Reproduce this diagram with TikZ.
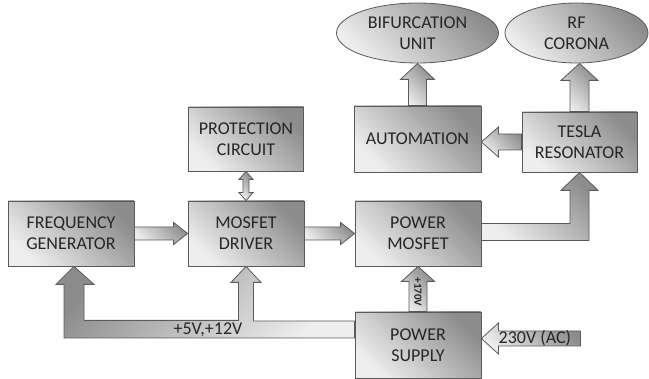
\documentclass[tikz,border=0pt]{standalone}
\usepackage{fontspec}
\setmainfont{Carlito}
\usetikzlibrary{shapes.geometric}
\usetikzlibrary{calc}
\definecolor{boxdark}{HTML}{8C8C8C}
\definecolor{boxlight}{HTML}{EEEEEE}
\definecolor{edge}{HTML}{5A5A5A}
\definecolor{txt}{HTML}{262626}
\tikzset{%
  bw/.store in = \fbw, hw/.store in = \fhw, hl/.store in = \fhl,
  bw=6pt, hw=11pt, hl=14pt,
  lbl/.style = {text=txt,inner sep=0pt,
        font=\fontsize{18pt}{21pt}\selectfont},
  grad/.style = {draw=edge,line width=0.8pt,top color=boxdark,
        bottom color=boxlight,shading angle=-45},
  gradl/.style = {draw=edge,line width=0.8pt,top color=boxdark,
        bottom color=boxlight,shading angle=45},
  blk/.style = {rectangle,grad,lbl,align=center},
  oval/.style = {ellipse,grad,lbl,align=center},
  fat/.style = {grad,to path={
        ($(\tikztostart)!\fbw!90:(\tikztotarget)$)
     -- ($(\tikztotarget)!\fhl!(\tikztostart)!\fbw!-90:(\tikztostart)$)
     -- ($(\tikztotarget)!\fhl!(\tikztostart)!\fhw!-90:(\tikztostart)$)
     -- (\tikztotarget)
     -- ($(\tikztotarget)!\fhl!(\tikztostart)!\fhw!90:(\tikztostart)$)
     -- ($(\tikztotarget)!\fhl!(\tikztostart)!\fbw!90:(\tikztostart)$)
     -- ($(\tikztostart)!\fbw!-90:(\tikztotarget)$) -- cycle}},
  fatboth/.style = {grad,to path={
        ($(\tikztostart)!\fhl!(\tikztotarget)!\fbw!90:(\tikztotarget)$)
     -- ($(\tikztotarget)!\fhl!(\tikztostart)!\fbw!-90:(\tikztostart)$)
     -- ($(\tikztotarget)!\fhl!(\tikztostart)!\fhw!-90:(\tikztostart)$)
     -- (\tikztotarget)
     -- ($(\tikztotarget)!\fhl!(\tikztostart)!\fhw!90:(\tikztostart)$)
     -- ($(\tikztotarget)!\fhl!(\tikztostart)!\fbw!90:(\tikztostart)$)
     -- ($(\tikztostart)!\fhl!(\tikztotarget)!\fbw!-90:(\tikztotarget)$)
     -- ($(\tikztostart)!\fhl!(\tikztotarget)!\fhw!-90:(\tikztotarget)$)
     -- (\tikztostart)
     -- ($(\tikztostart)!\fhl!(\tikztotarget)!\fhw!90:(\tikztotarget)$)
     -- cycle}}
}

\begin{document}
\begin{tikzpicture}[x=1pt,y=-1pt]
  \useasboundingbox (0,0) rectangle (649,379);
  % blocks
  \node[blk,minimum width=126pt,minimum height=65pt] (fg) at (71,233.5) {FREQUENCY\\GENERATOR};
  \node[blk,minimum width=116pt,minimum height=65pt] (md) at (246,233.5) {MOSFET\\DRIVER};
  \node[blk,minimum width=115pt,minimum height=64pt] (pc) at (246,139) {PROTECTION\\CIRCUIT};
  \node[blk,minimum width=126pt,minimum height=65pt] (pm) at (418,233.5) {POWER\\MOSFET};
  \node[blk,minimum width=126pt,minimum height=66pt] (ps) at (418,345) {POWER\\SUPPLY};
  \node[blk,minimum width=127pt,minimum height=66pt] (au) at (417.5,139) {AUTOMATION};
  \node[blk,minimum width=115pt,minimum height=60pt] (tr) at (579.5,142) {TESLA\\RESONATOR};
  \node[oval,minimum width=162pt,minimum height=60pt] (bu) at (417.5,33) {BIFURCATION\\UNIT};
  \node[oval,minimum width=143pt,minimum height=60pt] (rf) at (576.5,33) {RF\\CORONA};

  \coordinate (au-in) at (au.east |- tr.west);
  \coordinate (rf-in) at (tr.north |- rf.south);
  \coordinate (ps-in) at ($(ps.east)+(0,-6.5)$);
  \coordinate (ac) at ($(ps-in)+(99,0)$);

  % supply rails
  \path[gradl] ($(ps.west)+(0,-24)$) -| ($(md.south)+(7.5,16)$) -- ++(7.5,0)
    -- (md.south) -- ++(-15,16) -- ++(7.5,0)
    |- ($(fg.south)+(13,54)$) -- ($(fg.south)+(13,18)$) -- ++(10,0)
    -- ($(fg.south)+(3,0)$) -- ++(-18,18) -- ++(8,0)
    |- ($(ps.west)+(0,-7)$) -- cycle;
  \path[grad] ($(pm.east)+(0,-10)$) -| ($(tr.south)+(-9.5,18)$) -- ++(-9,0)
    -- (tr.south) -- ++(18.5,18) -- ++(-9,0)
    |- ($(pm.east)+(0,7)$) -- cycle;

  % straight arrows
  \path[fat,bw=6.5pt,hw=11pt,hl=14pt] (fg.east) to (md.west);
  \path[fat,bw=6.5pt,hw=11pt,hl=14pt] (md.east) to (pm.west);
  \path[fatboth,bw=3pt,hw=7pt,hl=8pt] (pc.south) to (md.north);
  \path[fat,bw=9pt,hw=16.5pt,hl=15pt] (ps.north) to (pm.south);
  \path[fat,bw=8pt,hw=15pt,hl=17pt] (tr.west) to (au-in);
  \path[fat,bw=9pt,hw=17pt,hl=16pt] (au.north) to (bu.south);
  \path[fat,bw=9.5pt,hw=18.5pt,hl=17pt] (tr.north) to (rf-in);
  \path[fat,bw=7.5pt,hw=15.5pt,hl=17pt] (ac) to (ps-in);

  % labels
  \node[lbl] (v512) at (208,329.5) {+5V,+12V};
  \node[lbl,font=\bfseries\fontsize{11pt}{13pt}\selectfont,rotate=-90] (v170) at (418,292) {+170V};
  \node[lbl] (acl) at ($(ac)+(-45.5,0)$) {230V (AC)};
\end{tikzpicture}
\end{document}
